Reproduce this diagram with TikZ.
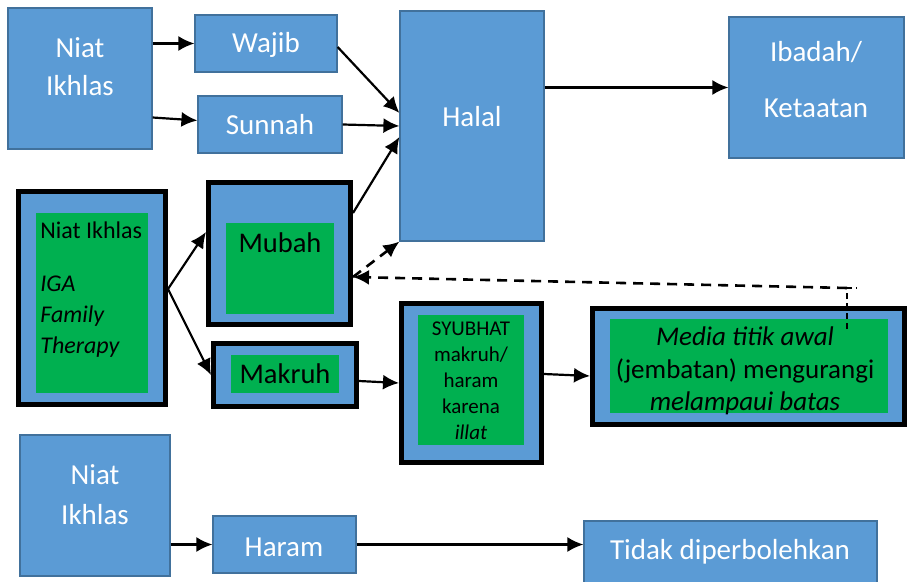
\documentclass[tikz,border=0pt]{standalone}
\usepackage{fontspec}
\setmainfont{Carlito}
\usetikzlibrary{fit,arrows.meta}

\definecolor{boxblue}{HTML}{5B9BD5}
\definecolor{boxline}{HTML}{41719C}
\definecolor{boxgreen}{HTML}{00B050}

\tikzset{
	bluebox/.style={draw=boxline, fill=boxblue, line width=0.6pt, inner sep=0pt},
	framebox/.style={draw=black, fill=boxblue, line width=2.5pt, inner sep=0pt},
	greenbox/.style={fill=boxgreen, inner sep=0pt},
	whitetext/.style={text=white, align=center, inner sep=0pt, font=\fontsize{14.5}{19}\selectfont},
	blacktext/.style={align=center, inner sep=0pt},
	arr/.style={-{Latex[length=8pt,width=7.5pt]}, line width=1.1pt},
	dasharr/.style={arr, line width=1.3pt, dash pattern=on 5pt off 3.5pt},
}

\begin{document}
\begin{tikzpicture}[x=0.5pt, y=-0.5pt]

		\useasboundingbox (0,0) rectangle (908,582);

		% draw top row
		\node[bluebox, fit={(8,8) (152,149)}] (niatA) {};
		\node[whitetext] (niatAtext) at (80,67) {Niat\\Ikhlas};
		\node[bluebox, fit={(195,15) (337,72)}] (wajib) {};
		\node[whitetext] (wajibtext) at (266,45) {Wajib};
		\node[bluebox, fit={(198,96) (342,153)}] (sunnah) {};
		\node[whitetext] (sunnahtext) at (270,125) {Sunnah};
		\node[bluebox, fit={(400,11) (544,241)}] (halal) {};
		\node[whitetext] (halaltext) at (472,117) {Halal};
		\node[bluebox, fit={(729,17) (904,158)}] (ibadah) {};
		\node[whitetext, font=\fontsize{14.5}{28}\selectfont] (ibadahtext) at (816,80) {Ibadah/\\Ketaatan};

		% draw framed boxes
		\node[framebox, fit={(18.5,191.5) (165.5,404.5)}] (niatBF) {};
		\node[greenbox, fit={(36,213) (148,393)}] (niatB) {};
		\node[blacktext, anchor=north west, align=left, font=\fontsize{12}{15.5}\selectfont] (niatBtext) at (40,221)
			{Niat Ikhlas\\[11pt]\textit{IGA}\\\textit{Family}\\\textit{Therapy}};

		\node[framebox, fit={(208.5,182.5) (350.5,324.5)}] (mubahF) {};
		\node[greenbox, fit={(226,223) (334,314)}] (mubah) {};
		\node[blacktext, font=\fontsize{14.25}{17}\selectfont] (mubahtext) at (280,243) {Mubah};

		\node[framebox, fit={(213.5,343.5) (356.5,406.5)}] (makruhF) {};
		\node[greenbox, fit={(231,355) (339,393)}] (makruh) {};
		\node[blacktext, font=\fontsize{14.25}{17}\selectfont] (makruhtext) at (285,374) {Makruh};

		\node[framebox, fit={(401.5,303.5) (541.5,462.5)}] (syubhatF) {};
		\node[greenbox, fit={(418,315) (524,445)}] (syubhat) {};
		\node[blacktext, font=\fontsize{10.5}{13}\selectfont] (syubhattext) at (471,381)
			{SYUBHAT\\makruh/\\haram\\karena\\\textit{illat}};

		\node[framebox, fit={(592.5,308.5) (904.5,424.5)}] (mediaF) {};
		\node[greenbox, fit={(610,319) (888,413)}] (media) {};
		\node[blacktext, font=\fontsize{13.5}{16.25}\selectfont] (mediatext) at (745,371)
			{\textit{Media titik awal}\\(jembatan) mengurangi\\\textit{melampaui batas}};

		% draw bottom row
		\node[bluebox, fit={(20,435) (170,576)}] (niatC) {};
		\node[whitetext, font=\fontsize{14.5}{20}\selectfont] (niatCtext) at (95,495) {Niat\\Ikhlas};
		\node[bluebox, fit={(213,516) (356,573)}] (haram) {};
		\node[whitetext] (haramtext) at (284,547) {Haram};
		\node[bluebox, fit={(584,521) (877,583)}] (tidak) {};
		\node[whitetext] (tidaktext) at (730,552) {Tidak diperbolehkan};

		% arrows to halal
		\draw[arr] (niatA.east |- wajib.west) -- (wajib.west);
		\draw[arr] ([yshift=3.5pt]niatA.east |- sunnah.west) -- ([yshift=2pt]sunnah.west);
		\draw[arr] ([yshift=-1.75pt]wajib.east) -- ([yshift=6.5pt]halal.west);
		\draw[arr] (sunnah.east) -- (halal.west);
		\draw[arr] ([yshift=-16.5pt]mubahF.north east) -- ([yshift=-5.5pt]halal.west);
		\draw[arr] (halal.east |- ibadah.west) -- (ibadah.west);

		% arrows of the middle row
		\draw[arr] ([yshift=4.5pt]niatBF.east) -- ([yshift=10.75pt]mubahF.west);
		\draw[arr] ([yshift=4.5pt]niatBF.east) -- (makruhF.west);
		\draw[arr] ([yshift=-3pt]makruhF.east) -- (syubhatF.west);
		\draw[arr] ([yshift=4.5pt]syubhatF.east) -- ([yshift=-4.75pt]mediaF.west);

		% dashed way back
		\coordinate (dashstart) at ([yshift=-11.75pt]mubahF.east);
		\coordinate (mediatip) at (847,329);
		\coordinate (elbow) at (857,288);
		\draw[dasharr] (dashstart) -- (halal.south west);
		\draw[line width=0.6pt, dash pattern=on 3pt off 2pt] (mediatip) -- (mediatip |- elbow) -- (elbow);
		\draw[dasharr] (mediatip |- elbow) -- (dashstart);

		% arrows of the bottom row
		\draw[arr] (niatC.east |- haram.west) -- (haram.west);
		\draw[arr] (haram.east) -- (haram.east -| tidak.west);

	\end{tikzpicture}
\end{document}
